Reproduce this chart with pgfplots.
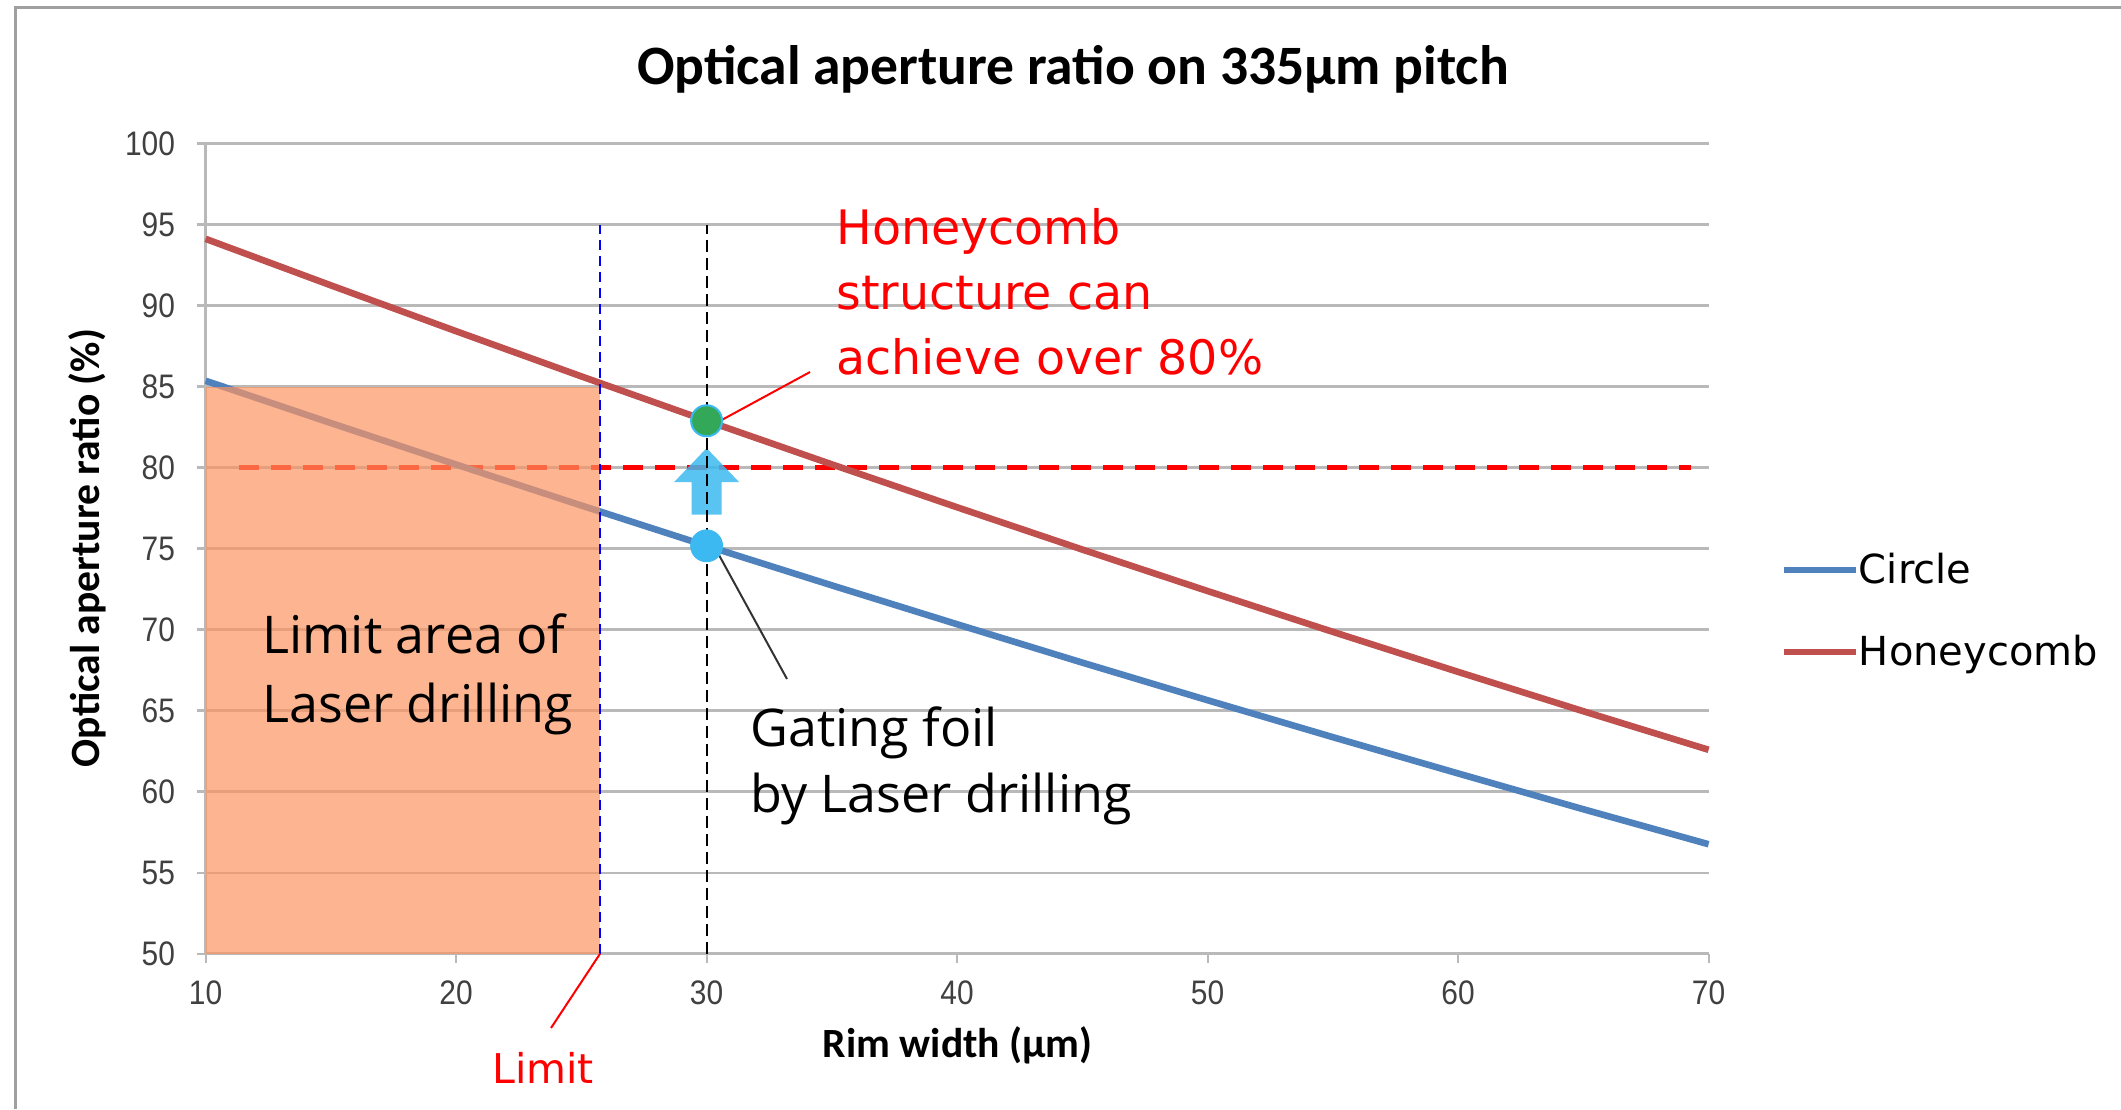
\documentclass[border=0pt]{standalone}
\usepackage{fontspec}
\setmainfont{Carlito}
\newfontfamily\annfont{Open Sans}
\newfontfamily\redfont{DejaVu Sans}
\newfontfamily\tickfont[FakeStretch=0.88]{Liberation Sans}
\usepackage{pgfplots}
\usepackage{pgfplotstable}
\pgfplotsset{compat=1.18}

\definecolor{circleblue}{RGB}{79,129,189}
\definecolor{honeyred}{RGB}{192,80,77}
\definecolor{gridgray}{RGB}{185,185,185}
\definecolor{limitfill}{RGB}{251,148,98}
\definecolor{markcyan}{RGB}{60,185,240}
\definecolor{markgreen}{RGB}{50,168,88}
\definecolor{framegray}{RGB}{160,160,160}

% aperture ratio (%) versus rim width (um) on a 335 um pitch
\pgfplotstableread{
w   circle  honey
10  85.36   94.12
15  82.75   91.25
20  80.19   88.42
25  77.66   85.63
30  75.17   82.89
35  72.73   80.20
40  70.33   77.55
45  67.96   74.94
50  65.64   72.38
55  63.36   69.86
60  61.12   67.39
65  58.91   64.96
70  56.75   62.58
}\aperture

\begin{document}
\begin{tikzpicture}[x=1pt,y=1pt]
\useasboundingbox (0,0) rectangle (1060.5,554.5);
\draw[framegray, line width=1.5pt] (7.5,0) -- (7.5,550.5) -- (1060.5,550.5);

\begin{axis}[
  at={(102.8pt,77.7pt)}, anchor=south west,
  scale only axis, width=751.5pt, height=405pt,
  xmin=10, xmax=70, ymin=50, ymax=100,
  xtick={10,20,...,70}, ytick={50,55,...,100},
  axis x line*=bottom, axis y line*=left,
  x axis line style={-, draw=gridgray, line width=1.2pt},
  y axis line style={-, draw=gridgray, line width=1.2pt},
  tick align=outside, major tick length=4.5pt,
  tick style={gridgray, line width=1.1pt},
  ymajorgrids, grid style={gridgray, line width=1.1pt},
  /pgf/number format/assume math mode=true,
  ticklabel style={font=\tickfont\fontsize{17}{17}\selectfont, text=black!75, inner sep=0pt},
  yticklabel style={anchor=east, xshift=-10.6pt},
  xticklabel style={anchor=north, yshift=-8.8pt},
  clip=false,
  legend style={at={(1.0475,0.4185)}, anchor=west, draw=none, fill=none,
    inner sep=0pt, row sep=21pt,
    font=\redfont\fontsize{20}{20}\selectfont,
    nodes={inner xsep=0pt, inner ysep=0pt, text height=15pt, text depth=5pt}},
  legend cell align=left,
  legend image code/.code={\draw[#1, line width=3.3pt] (0pt,1.9pt) -- (36pt,1.9pt);},
]
% 80 % target level
\addplot[red, line width=2.4pt, dash pattern=on 10pt off 6pt, forget plot]
  coordinates {(11.35,80) (69.3,80)};

\addplot[circleblue, line width=3.3pt] table[x=w, y=circle] {\aperture};
\addlegendentry{Circle}
\addplot[honeyred, line width=3.3pt] table[x=w, y=honey] {\aperture};
\addlegendentry{Honeycomb}

% region not reachable by laser drilling
\addplot[fill=limitfill, fill opacity=0.7, draw=none, forget plot]
  coordinates {(10,50) (25.75,50) (25.75,85) (10,85)} -- cycle;

% improvement arrow from circle to honeycomb at 30 um
\addplot[fill=markcyan, fill opacity=0.85, draw=none, forget plot]
  coordinates {(29.4,77.1) (30.6,77.1) (30.6,79.1) (31.3,79.1) (30,81.2)
               (28.7,79.1) (29.4,79.1)} -- cycle;

\addplot[only marks, mark=*, mark size=8pt, forget plot,
  mark options={fill=markcyan, draw=markcyan}] coordinates {(30,75.17)};
\addplot[only marks, mark=*, mark size=7.75pt, forget plot,
  mark options={fill=markgreen, draw=markcyan, line width=1pt}] coordinates {(30,82.89)};

% drilling limit and working point
\addplot[blue, line width=1.2pt, dash pattern=on 5pt off 3pt, forget plot]
  coordinates {(25.75,50) (25.75,95)};
\addplot[black, line width=1pt, dash pattern=on 6pt off 3pt, forget plot]
  coordinates {(30,50) (30,95)};

% callout leaders
\draw[red, line width=1pt] (axis cs:34.13,85.9) -- (axis cs:30.45,82.81);
\draw[black!80, line width=1pt] (axis cs:30.45,74.73) -- (axis cs:33.21,66.95);
\draw[red, line width=1pt] (axis cs:25.75,50) -- (axis cs:23.79,45.41);
\end{axis}

% titles
\node[anchor=base, font=\bfseries\fontsize{27.8}{27.8}\selectfont] at (536.5,512)
  {Optical aperture ratio on 335µm pitch};
\node[rotate=90, anchor=base, font=\bfseries\fontsize{20.8}{20.8}\selectfont] at (50,280.5)
  {Optical aperture ratio (\%)};
\node[anchor=base, font=\bfseries\fontsize{20.8}{20.8}\selectfont] at (478.9,26)
  {Rim width (µm)};

% callout texts
\begin{scope}[every node/.style={anchor=base west, inner sep=0pt}]
\node[text=red, font=\redfont\fontsize{23.75}{23.75}\selectfont] at (418,432) {Honeycomb};
\node[text=red, font=\redfont\fontsize{23.75}{23.75}\selectfont] at (418,399.5) {structure can};
\node[text=red, font=\redfont\fontsize{23.75}{23.75}\selectfont] at (418,367) {achieve over 80\%};
\node[font=\annfont\fontsize{26}{26}\selectfont] at (375,181) {Gating foil};
\node[font=\annfont\fontsize{26}{26}\selectfont] at (375,148) {by Laser drilling};
\node[font=\annfont\fontsize{26}{26}\selectfont] at (131,227.5) {Limit area of};
\node[font=\annfont\fontsize{26}{26}\selectfont] at (131,193) {Laser drilling};
\node[text=red, font=\redfont\fontsize{20.5}{20.5}\selectfont] at (246,13) {Limit};
\end{scope}
\end{tikzpicture}
\end{document}
